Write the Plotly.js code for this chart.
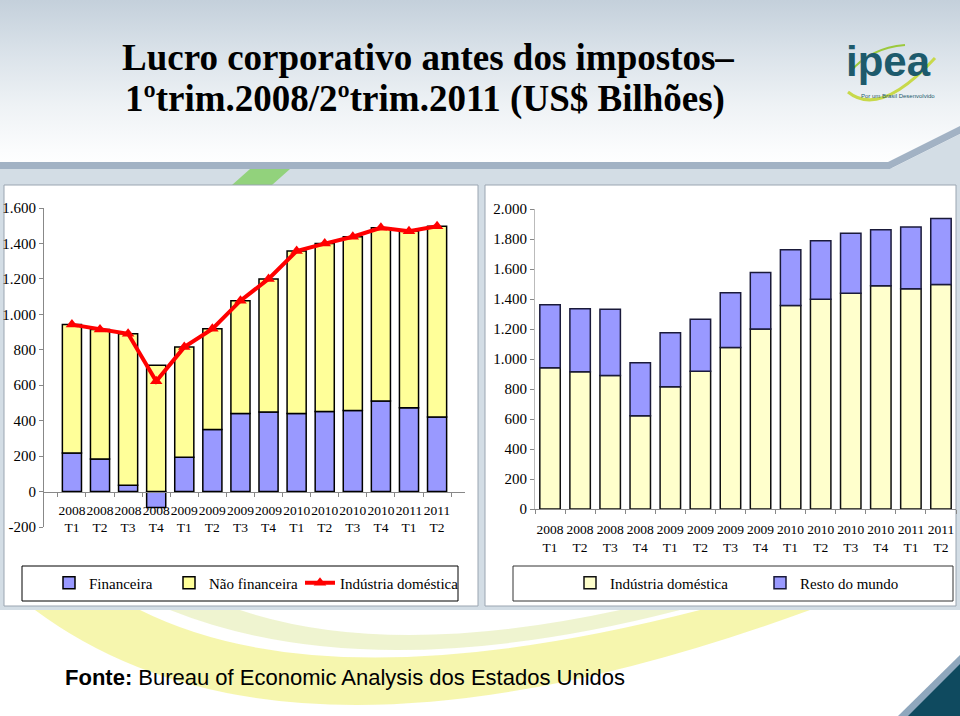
<!DOCTYPE html>
<html><head><meta charset="utf-8">
<script src="https://cdn.plot.ly/plotly-3.0.1.min.js"></script>
<style>
html,body{margin:0;padding:0;background:#fff;}
#chart{width:960px;height:716px;background:linear-gradient(to bottom,#c4d0db 0px,#dbe3ea 55px,#eef2f5 105px,#fbfcfd 150px,#ffffff 170px,#ffffff 716px);}
</style></head><body><div id="chart"></div>
<script>
// ---- data (US$ bilhões) ----
const categorias = ['2008<br>T1','2008<br>T2','2008<br>T3','2008<br>T4','2009<br>T1','2009<br>T2','2009<br>T3','2009<br>T4','2010<br>T1','2010<br>T2','2010<br>T3','2010<br>T4','2011<br>T1','2011<br>T2'];
const financeira        = [217, 183, 36, -90, 194, 350, 441, 449, 441, 452, 458, 511, 473, 420];
const naoFinanceira     = [725, 732, 854, 712, 621, 568, 636, 751, 916, 947, 980, 977, 996, 1077];
const industriaDomestica= [942, 915, 890, 622, 815, 918, 1077, 1200, 1357, 1399, 1438, 1488, 1469, 1497];
const restoDoMundo      = [419, 420, 442, 353, 360, 347, 364, 376, 371, 389, 400, 373, 411, 440];
const ticksEsq      = [-200, 0, 200, 400, 600, 800, 1000, 1200, 1400, 1600];
const ticksEsqTexto = ['-200','0','200','400','600','800','1.000','1.200','1.400','1.600'];
const ticksDir      = [0, 200, 400, 600, 800, 1000, 1200, 1400, 1600, 1800, 2000];
const ticksDirTexto = ['0','200','400','600','800','1.000','1.200','1.400','1.600','1.800','2.000'];

// ---- helpers: pixel -> paper fraction ----
const W = 960, H = 716;
const px = x => x / W;
const py = y => 1 - y / H;

const serif = 'Liberation Serif, Times New Roman, serif';
const azul = '#9999FF', amarelo = '#FFFF99', amareloClaro = '#FFFFCC';

const traces = [
  {type:'bar', name:'Financeira', x:categorias, y:financeira, xaxis:'x', yaxis:'y',
   marker:{color:azul, line:{color:'#000', width:1.5}}, legend:'legend'},
  {type:'bar', name:'Não financeira', x:categorias, y:naoFinanceira, xaxis:'x', yaxis:'y',
   marker:{color:amarelo, line:{color:'#000', width:1.5}}, legend:'legend2'},
  {type:'scatter', mode:'lines+markers', name:'Indústria doméstica', x:categorias, y:industriaDomestica, xaxis:'x', yaxis:'y',
   line:{color:'#FF0000', width:4}, marker:{symbol:'triangle-up', size:11, color:'#FF0000'}, legend:'legend3'},
  {type:'bar', name:'Indústria doméstica', x:categorias, y:industriaDomestica, xaxis:'x2', yaxis:'y2',
   marker:{color:amareloClaro, line:{color:'#111', width:1.5}}, legend:'legend4'},
  {type:'bar', name:'Resto do mundo', x:categorias, y:restoDoMundo, xaxis:'x2', yaxis:'y2',
   marker:{color:azul, line:{color:'#1a1a3a', width:1.5}}, legend:'legend5'}
];

const tickFont = {family:serif, size:15, color:'#000'};
const catFont = {family:serif, size:13.5, color:'#000'};

function leg(xText, yc){
  return {x:px(xText-40), y:py(yc), xanchor:'left', yanchor:'middle', orientation:'h',
    bgcolor:'rgba(0,0,0,0)', borderwidth:0, font:{family:serif, size:15, color:'#000'}};
}

const shapes = [
  // gray band behind panels
  {type:'rect', xref:'paper', yref:'paper', x0:0, x1:1, y0:py(610), y1:py(168), fillcolor:'#d3dde5', line:{width:0}, layer:'below'},
  // top stripe with diagonal
  {type:'path', xref:'paper', yref:'paper', layer:'below', fillcolor:'#a2b2c4', line:{width:0},
   path:`M 0 ${py(162)} L ${px(888)} ${py(162)} L ${px(960)} ${py(126)} L ${px(960)} ${py(134)} L ${px(890)} ${py(169)} L 0 ${py(169)} Z`},
  {type:'path', xref:'paper', yref:'paper', layer:'below', fillcolor:'#d3dde5', line:{width:0},
   path:`M ${px(890)} ${py(169)} L ${px(960)} ${py(134)} L ${px(960)} ${py(169)} Z`},
  // green accent
  {type:'path', xref:'paper', yref:'paper', layer:'below', fillcolor:'#92d27c', line:{width:0},
   path:`M ${px(232)} ${py(185)} L ${px(250)} ${py(169)} L ${px(290)} ${py(169)} L ${px(272)} ${py(185)} Z`},
  // panels
  {type:'rect', xref:'paper', yref:'paper', x0:px(4), x1:px(478), y0:py(606), y1:py(185), fillcolor:'#ffffff', line:{color:'#9aa5b1', width:1}, layer:'below'},
  {type:'rect', xref:'paper', yref:'paper', x0:px(485), x1:px(956), y0:py(606), y1:py(185), fillcolor:'#ffffff', line:{color:'#9aa5b1', width:1}, layer:'below'},
  // legend boxes
  {type:'rect', xref:'paper', yref:'paper', x0:px(22), x1:px(458), y0:py(601), y1:py(566), fillcolor:'#ffffff', line:{color:'#000', width:1}, layer:'below'},
  {type:'rect', xref:'paper', yref:'paper', x0:px(513), x1:px(953), y0:py(601), y1:py(566), fillcolor:'#ffffff', line:{color:'#333', width:1}, layer:'below'},
  // bottom yellow swoosh
  {type:'path', xref:'paper', yref:'paper', layer:'below', fillcolor:'rgba(240,240,120,0.6)', line:{width:0},
   path:`M ${px(35)} ${py(610)} Q ${px(290)} ${py(800)} ${px(810)} ${py(610)} L ${px(700)} ${py(610)} Q ${px(330)} ${py(705)} ${px(140)} ${py(610)} Z`},
  {type:'path', xref:'paper', yref:'paper', layer:'below', fillcolor:'rgba(225,235,170,0.55)', line:{width:0},
   path:`M ${px(170)} ${py(610)} Q ${px(370)} ${py(690)} ${px(680)} ${py(610)} L ${px(620)} ${py(610)} Q ${px(390)} ${py(660)} ${px(240)} ${py(610)} Z`},
  // bottom-right corner triangle
  {type:'path', xref:'paper', yref:'paper', layer:'below', fillcolor:'#8fa7bd', line:{width:0},
   path:`M ${px(898)} ${py(716)} L ${px(960)} ${py(655)} L ${px(960)} ${py(716)} Z`},
  {type:'path', xref:'paper', yref:'paper', layer:'below', fillcolor:'#0f4a5f', line:{width:0},
   path:`M ${px(908)} ${py(716)} L ${px(960)} ${py(664)} L ${px(960)} ${py(716)} Z`},
  // ipea logo arcs
  {type:'path', xref:'paper', yref:'paper', layer:'below', fillcolor:'rgba(0,0,0,0)', line:{color:'#c8d94a', width:3},
   path:`M ${px(848)} ${py(92)} Q ${px(880)} ${py(118)} ${px(935)} ${py(58)}`},
  {type:'path', xref:'paper', yref:'paper', layer:'below', fillcolor:'rgba(0,0,0,0)', line:{color:'#9cc93c', width:2},
   path:`M ${px(850)} ${py(72)} Q ${px(870)} ${py(48)} ${px(905)} ${py(45)}`}
];

const annotations = [
  {xref:'paper', yref:'paper', x:px(428), y:py(57), xanchor:'center', yanchor:'middle', showarrow:false,
   text:'<b>Lucro corporativo antes dos impostos–</b>', font:{family:serif, size:37, color:'#000'}},
  {xref:'paper', yref:'paper', x:px(425), y:py(99), xanchor:'center', yanchor:'middle', showarrow:false,
   text:'<b>1ºtrim.2008/2ºtrim.2011 (US$ Bilhões)</b>', font:{family:serif, size:37, color:'#000'}},
  {xref:'paper', yref:'paper', x:px(63), y:py(677), xanchor:'left', yanchor:'middle', showarrow:false,
   text:'<b>Fonte:</b> Bureau of Economic Analysis dos Estados Unidos',
   font:{family:'Liberation Sans, Arial, sans-serif', size:22, color:'#000'}},
  {xref:'paper', yref:'paper', x:px(888), y:py(62), xanchor:'center', yanchor:'middle', showarrow:false,
   text:'<b>ipea</b>', font:{family:'Liberation Sans, Arial, sans-serif', size:42, color:'#1d5a6c'}},
  {xref:'paper', yref:'paper', x:px(898), y:py(96), xanchor:'center', yanchor:'middle', showarrow:false,
   text:'Por um Brasil Desenvolvido', font:{family:'Liberation Sans, Arial, sans-serif', size:6, color:'#1d5a6c'}}
];

const layout = {
  width:W, height:H, margin:{l:0, r:0, t:0, b:0, pad:0},
  paper_bgcolor:'rgba(0,0,0,0)', plot_bgcolor:'rgba(0,0,0,0)',
  barmode:'relative', bargap:0.32, showlegend:true,
  xaxis:{domain:[px(44), px(465)], anchor:'free', position:py(491.7), type:'category',
    showline:true, linecolor:'#888', linewidth:1, ticks:'outside', tickson:'boundaries', ticklen:4, tickcolor:'#888',
    ticklabelstandoff:6, tickangle:0, tickfont:catFont, showgrid:false, zeroline:false, fixedrange:true},
  yaxis:{domain:[py(527), py(208)], anchor:'x', range:[-200, 1600], tickvals:ticksEsq, ticktext:ticksEsqTexto,
    showline:true, linecolor:'#888', linewidth:1, ticks:'outside', ticklen:4, tickcolor:'#888',
    tickfont:tickFont, showgrid:false, zeroline:false, fixedrange:true},
  xaxis2:{domain:[px(535), px(956)], anchor:'y2', type:'category',
    showline:true, linecolor:'#888', linewidth:1, ticks:'outside', tickson:'boundaries', ticklen:4, tickcolor:'#888',
    ticklabelstandoff:8, tickangle:0, tickfont:catFont, showgrid:false, zeroline:false, fixedrange:true},
  yaxis2:{domain:[py(509), py(209)], anchor:'x2', range:[0, 2000], tickvals:ticksDir, ticktext:ticksDirTexto,
    showline:true, linecolor:'#bbb', linewidth:1, ticks:'outside', ticklen:4, tickcolor:'#888',
    tickfont:tickFont, showgrid:false, zeroline:false, fixedrange:true},
  legend:leg(89, 583), legend2:leg(209, 583), legend3:leg(340, 583),
  legend4:leg(610, 583), legend5:leg(800, 583),
  shapes:shapes, annotations:annotations
};

Plotly.newPlot('chart', traces, layout, {displayModeBar:false, staticPlot:true});
</script></body></html>
